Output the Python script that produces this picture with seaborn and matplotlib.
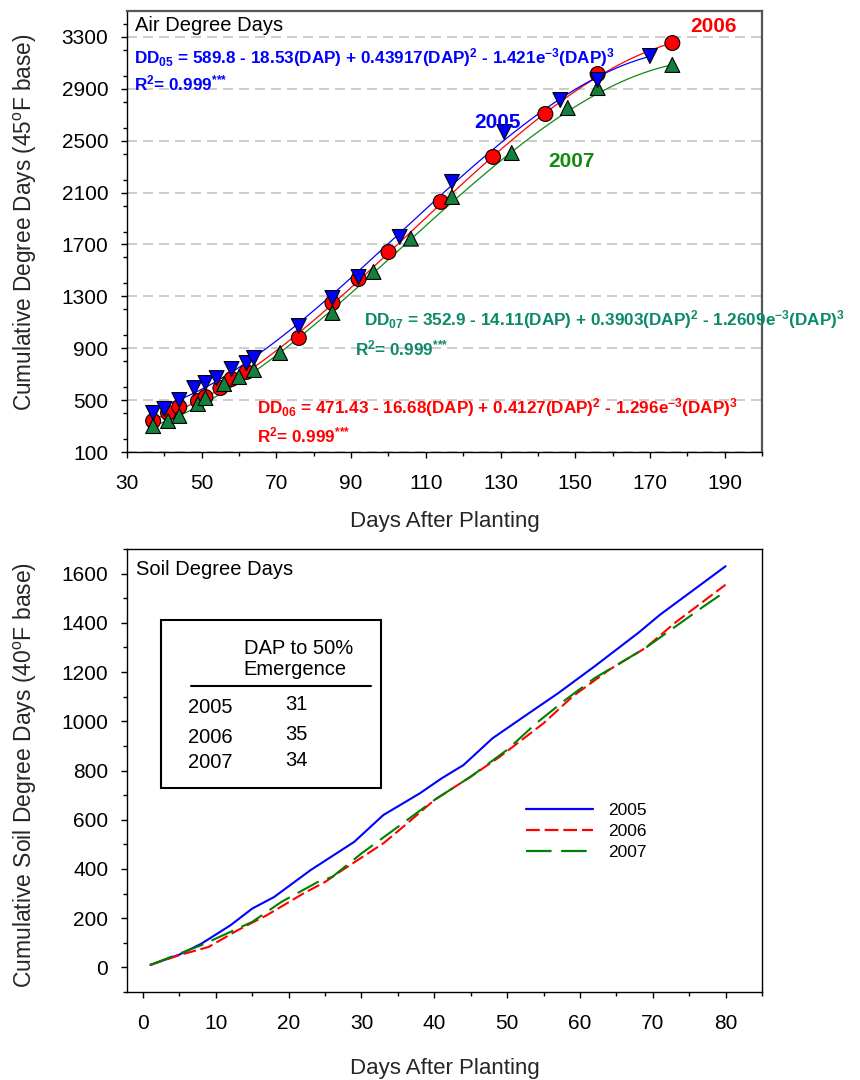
import numpy as np
import pandas as pd
import matplotlib
matplotlib.use("Agg")
import matplotlib.pyplot as plt
from matplotlib.ticker import MultipleLocator
from matplotlib.lines import Line2D
from matplotlib.patches import Rectangle
import seaborn as sns

# ---- Air degree days at each sampling date (DAP = days after planting) ----
dap_2005 = [37, 40, 44, 48, 51, 54, 58, 62, 64, 76, 85, 92, 103, 117, 131, 146, 156, 170]
dd_2005 = [401, 432, 501, 593, 632, 670, 740, 786, 825, 1071, 1287, 1449, 1758, 2182, 2567, 2814, 2968, 3153]
dap_2006 = [37, 41, 44, 49, 51, 55, 58, 62, 76, 85, 92, 100, 114, 128, 142, 156, 176]
dd_2006 = [339, 401, 447, 493, 524, 593, 663, 717, 979, 1249, 1434, 1642, 2028, 2375, 2706, 3014, 3253]
dap_2007 = [37, 41, 44, 49, 51, 56, 60, 64, 71, 85, 96, 106, 117, 133, 148, 156, 176]
dd_2007 = [300, 339, 378, 470, 516, 624, 678, 732, 863, 1172, 1488, 1745, 2066, 2405, 2752, 2906, 3084]

# Cubic regression coefficients: b0 + b1*DAP + b2*DAP^2 + b3*DAP^3
coef_2005 = [589.8, -18.53, 0.43917, -1.421e-3]
coef_2006 = [471.43, -16.68, 0.4127, -1.296e-3]
coef_2007 = [352.9, -14.11, 0.3903, -1.2609e-3]
r2_text = "0.999"

# ---- Soil degree days (40 F base) ----
soil_dap_2005 = [1, 5, 8, 12, 15, 18, 23, 29, 33, 38, 41, 44, 48, 53, 57, 62, 68, 71, 80]
soil_dd_2005 = [10, 52, 96, 171, 239, 286, 395, 510, 619, 707, 768, 822, 931, 1033, 1114, 1223, 1359, 1433, 1630]
soil_dap_2006 = [1, 5, 9, 13, 17, 22, 25, 27, 33, 36, 40, 45, 49, 55, 59, 64, 69, 73, 80]
soil_dd_2006 = [10, 50, 83, 151, 212, 300, 347, 388, 504, 578, 680, 775, 856, 992, 1101, 1209, 1298, 1399, 1555]
soil_dap_2007 = [1, 5, 8, 15, 19, 24, 26, 30, 35, 40, 45, 50, 54, 58, 62, 69, 77, 80]
soil_dd_2007 = [10, 56, 90, 185, 266, 347, 368, 463, 571, 680, 775, 884, 992, 1087, 1175, 1298, 1467, 1528]

# Days after planting to 50% emergence
years = ["2005", "2006", "2007"]
emergence_dap = [31, 35, 34]

# ---- style ----
sns.set_theme(style="ticks")
plt.rcParams["font.family"] = ["Liberation Sans", "DejaVu Sans"]
plt.rcParams.update({
    "mathtext.fontset": "custom",
    "mathtext.rm": "Liberation Sans",
    "mathtext.bf": "Liberation Sans:bold",
    "mathtext.it": "Liberation Sans:italic",
    "xtick.direction": "out",
    "ytick.direction": "out",
    "xtick.color": "black",
    "ytick.color": "black",
    "axes.edgecolor": "black",
    "text.color": "black",
})

BLUE, RED = "#0000ff", "#ff0000"
GREEN_MK, GREEN_LN = "#15803d", "#118a11"
TEAL = "#0a8a6a"

fig = plt.figure(figsize=(8.6, 10.8), dpi=100)
fig.patch.set_facecolor("white")
ax1 = fig.add_axes([127 / 860, 1 - 452 / 1080, 635 / 860, 441 / 1080])
ax2 = fig.add_axes([127 / 860, 1 - 992 / 1080, 635 / 860, 443 / 1080])

# ---------------- Air degree days ----------------
pts = pd.concat([
    pd.DataFrame({"DAP": dap_2006, "DD": dd_2006, "Year": "2006"}),
    pd.DataFrame({"DAP": dap_2007, "DD": dd_2007, "Year": "2007"}),
    pd.DataFrame({"DAP": dap_2005, "DD": dd_2005, "Year": "2005"}),
], ignore_index=True)


def cubic(coef, x):
    x = np.asarray(x, dtype=float)
    return coef[0] + coef[1] * x + coef[2] * x ** 2 + coef[3] * x ** 3


fits = []
for yr, dap, coef in [("2006", dap_2006, coef_2006), ("2007", dap_2007, coef_2007),
                      ("2005", dap_2005, coef_2005)]:
    xs = np.linspace(min(dap), max(dap), 300)
    fits.append(pd.DataFrame({"DAP": xs, "DD": cubic(coef, xs), "Year": yr}))
fits = pd.concat(fits, ignore_index=True)

ax1.yaxis.grid(True, which="major", color="#c4c4c4", linewidth=1.2,
               linestyle=(0, (6, 3.6)))
ax1.xaxis.grid(False)
ax1.set_axisbelow(True)

sns.lineplot(data=fits, x="DAP", y="DD", hue="Year",
             palette={"2005": BLUE, "2006": RED, "2007": GREEN_LN},
             estimator=None, sort=False, linewidth=0.9, legend=False, ax=ax1)
sns.scatterplot(data=pts, x="DAP", y="DD", hue="Year", style="Year",
                palette={"2005": BLUE, "2006": RED, "2007": GREEN_MK},
                markers={"2005": "v", "2006": "o", "2007": "^"},
                s=115, edgecolor="black", linewidth=0.8, legend=False,
                zorder=3, ax=ax1)

ax1.set_xlim(30, 200)
ax1.set_ylim(100, 3500)
ax1.set_xticks(np.arange(30, 191, 20))
ax1.set_yticks(np.arange(100, 3301, 400))
ax1.xaxis.set_minor_locator(MultipleLocator(10))
ax1.yaxis.set_minor_locator(MultipleLocator(200))
ax1.tick_params(which="major", length=4.5, width=1, labelsize=15, pad=9)
ax1.tick_params(axis="x", which="major", pad=11)
ax1.tick_params(which="minor", length=2.6, width=1)
ax1.tick_params(axis="x", which="both", top=False)
ax1.tick_params(axis="y", which="both", right=False)
for side in ["top", "right"]:
    ax1.spines[side].set_color("#555555")
    ax1.spines[side].set_linewidth(1.6)
for side in ["left", "bottom"]:
    ax1.spines[side].set_color("black")
    ax1.spines[side].set_linewidth(1.0)

ax1.set_xlabel("Days After Planting", fontsize=16)
ax1.set_ylabel("Cumulative Degree Days (45$^{\\mathrm{o}}$F base)", fontsize=16.3)
ax1.xaxis.set_label_coords(0.5, -0.134)
ax1.yaxis.set_label_coords(-0.138, 0.52)


def eq_label(tag, coef):
    return (f"DD$_{{\\mathbf{{{tag}}}}}$ = {coef[0]:g} - {-coef[1]:g}(DAP) + "
            f"{coef[2]:g}(DAP)$^{{\\mathbf{{2}}}}$ - {-coef[3] * 1000:g}e$^{{\\mathbf{{-3}}}}$"
            f"(DAP)$^{{\\mathbf{{3}}}}$")


r2_label = f"R$^{{\\mathbf{{2}}}}$= {r2_text}$^{{\\mathbf{{{{*}}{{*}}{{*}}}}}}$"

ax1.text(32.1, 3385, "Air Degree Days", fontsize=14.5, va="center", ha="left")
eq_kw = dict(fontsize=12.3, fontweight="bold", va="center", ha="left")
ax1.text(31.9, 3138, eq_label("05", coef_2005), color=BLUE, **eq_kw)
ax1.text(31.9, 2945, r2_label, color=BLUE, **eq_kw)
ax1.text(93.5, 1118, eq_label("07", coef_2007), color=TEAL, **eq_kw)
ax1.text(91.0, 902, r2_label, color=TEAL, **eq_kw)
ax1.text(64.8, 439, eq_label("06", coef_2006), color=RED, **eq_kw)
ax1.text(64.8, 231, r2_label, color=RED, **eq_kw)

yr_kw = dict(fontsize=15, fontweight="bold", va="center", ha="center")
ax1.text(129.3, 2637, "2005", color=BLUE, **yr_kw)
ax1.text(186.9, 3377, "2006", color=RED, **yr_kw)
ax1.text(149.1, 2336, "2007", color=GREEN_LN, **yr_kw)

# ---------------- Soil degree days ----------------
soil = pd.concat([
    pd.DataFrame({"DAP": soil_dap_2005, "DD": soil_dd_2005, "Year": "2005"}),
    pd.DataFrame({"DAP": soil_dap_2006, "DD": soil_dd_2006, "Year": "2006"}),
    pd.DataFrame({"DAP": soil_dap_2007, "DD": soil_dd_2007, "Year": "2007"}),
], ignore_index=True)

soil_pal = {"2005": BLUE, "2006": RED, "2007": "#008000"}
soil_dash = {"2005": "", "2006": (6.2, 2.2), "2007": (11.5, 4.3)}
sns.lineplot(data=soil, x="DAP", y="DD", hue="Year", style="Year",
             palette=soil_pal, dashes=soil_dash, estimator=None, sort=False,
             linewidth=1.5, legend=False, ax=ax2)

ax2.set_xlim(-2.2, 85)
ax2.set_ylim(-100, 1700)
ax2.set_xticks(np.arange(0, 81, 10))
ax2.set_yticks(np.arange(0, 1601, 200))
ax2.xaxis.set_minor_locator(MultipleLocator(5))
ax2.yaxis.set_minor_locator(MultipleLocator(100))
ax2.tick_params(which="major", length=4.5, width=1, labelsize=15, pad=9)
ax2.tick_params(axis="x", which="major", pad=11)
ax2.tick_params(which="minor", length=2.6, width=1)
ax2.tick_params(axis="x", which="both", top=False)
ax2.tick_params(axis="y", which="both", right=False)
for side in ax2.spines:
    ax2.spines[side].set_color("black")
    ax2.spines[side].set_linewidth(1.0)
ax2.grid(False)

ax2.set_xlabel("Days After Planting", fontsize=16)
ax2.set_ylabel("Cumulative Soil Degree Days (40$^{\\mathrm{o}}$F base)", fontsize=16.5)
ax2.xaxis.set_label_coords(0.5, -0.148)
ax2.yaxis.set_label_coords(-0.138, 0.49)

ax2.text(0.014, 0.9526, "Soil Degree Days", transform=ax2.transAxes,
         fontsize=14.5, va="center", ha="left")

# Emergence table
T = ax2.transAxes
ax2.add_patch(Rectangle((0.0535, 0.4605), 0.4 - 0.0535, 0.8397 - 0.4605,
                        transform=T, fill=False, edgecolor="black", linewidth=1.5))
ax2.text(0.184, 0.7765, "DAP to 50%", transform=T, fontsize=14.5, va="center", ha="left")
ax2.text(0.184, 0.727, "Emergence", transform=T, fontsize=14.5, va="center", ha="left")
ax2.plot([0.1008, 0.3843], [0.6907, 0.6907], transform=T, color="black", linewidth=1.5)
row_y = [0.643, 0.5756, 0.517]
for yr, val, yy in zip(years, emergence_dap, row_y):
    ax2.text(0.096, yy, yr, transform=T, fontsize=14.5, va="center", ha="left")
    ax2.text(0.249, yy + 0.006, str(val), transform=T, fontsize=14.5, va="center", ha="left")

# Legend
handles = [Line2D([], [], color=soil_pal[y], linewidth=1.6,
                  linestyle="-" if soil_dash[y] == "" else (0, soil_dash[y]))
           for y in years]
ax2.legend(handles, years, loc="upper left", bbox_to_anchor=(0.628, 0.427),
           frameon=False, fontsize=12.5, handlelength=3.9, handletextpad=0.85,
           labelspacing=0.33, borderpad=0, borderaxespad=0)

fig.savefig("out.png", dpi=100, facecolor="white")
